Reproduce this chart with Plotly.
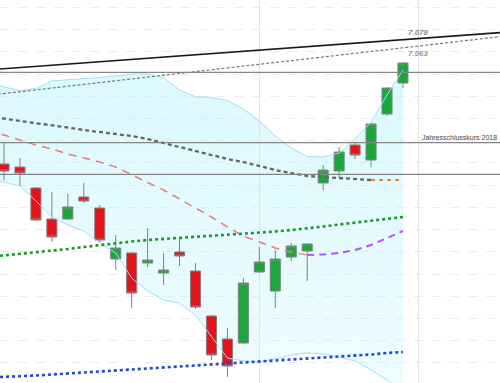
import plotly.graph_objects as go

# ---- candle data (index, OHLC) ----
idx = list(range(26))
opens = [6797.5, 6790.75, 6743.5, 6673.75, 6673.75, 6723.25, 6698.5, 6583.75, 6597.25, 6574.75,
         6552.25, 6599.5, 6556.75, 6455.5, 6403.75, 6394.75, 6554.5, 6511.75, 6588.25, 6601.75,
         6754.75, 6781.75, 6840.25, 6806.5, 6910.0, 6979.75]
highs = [6844.75, 6811.0, 6745.75, 6734.5, 6730.0, 6754.75, 6705.25, 6637.75, 6599.5, 6653.5,
         6597.25, 6633.25, 6574.75, 6457.75, 6428.5, 6541.0, 6610.75, 6604.0, 6619.75, 6619.75,
         6795.25, 6835.75, 6847.0, 6889.75, 6970.75, 7027.0]
lows = [6761.5, 6748.0, 6669.25, 6622.0, 6671.5, 6709.75, 6622.0, 6559.0, 6473.5, 6565.75,
        6525.25, 6568.0, 6471.25, 6356.5, 6318.25, 6392.5, 6552.25, 6473.5, 6579.25, 6534.25,
        6739.0, 6766.0, 6808.75, 6790.75, 6905.5, 6968.5]
closes = [6781.75, 6777.25, 6671.5, 6633.25, 6700.75, 6714.25, 6626.5, 6608.5, 6507.25, 6581.5,
          6559.0, 6590.5, 6475.75, 6367.75, 6343.0, 6529.75, 6577.0, 6583.75, 6613.0, 6617.5,
          6784.0, 6824.5, 6817.75, 6887.5, 6968.5, 7024.75]

# ---- indicators ----
ind_x = list(range(-1, 26))
bb_upper = [6979.0, 6970.75, 6962.9, 6967.4, 6984.25, 6987.0, 6988.75, 6992.1, 6995.5, 7000.0,
            7000.0, 6992.1, 6964.0, 6948.7, 6947.1, 6940.4, 6921.25, 6894.25, 6860.5, 6833.5,
            6814.4, 6813.25, 6822.25, 6853.75, 6892.0, 6952.75, 7009.0]
bb_lower = [6765.0, 6757.0, 6748.0, 6714.25, 6678.25, 6660.25, 6646.75, 6619.75, 6597.25, 6541.0,
            6511.75, 6491.5, 6484.75, 6457.75, 6408.25, 6361.0, 6354.25, 6352.0, 6358.75, 6367.75,
            6372.25, 6370.0, 6363.25, 6354.25, 6334.0, 6311.5, 6284.5]
sma_gray_x = list(range(-1, 24))
sma_gray = [6903.25, 6899.9, 6894.25, 6889.75, 6885.25, 6879.6, 6874.0, 6869.5, 6865.0, 6860.5,
            6853.75, 6844.75, 6835.75, 6826.75, 6817.75, 6808.75, 6802.0, 6793.0, 6784.0, 6777.25,
            6770.5, 6768.25, 6766.0, 6762.6, 6761.5]
sma_orange_x = [23, 24, 25]
sma_orange = [6761.5, 6761.5, 6761.5]
sma_red_x = list(range(-1, 20))
sma_red = [6871.75, 6862.75, 6851.5, 6840.25, 6831.25, 6820.0, 6811.0, 6802.0, 6790.75, 6772.75,
           6755.9, 6739.0, 6718.75, 6698.5, 6678.25, 6655.75, 6635.5, 6622.0, 6608.5, 6599.5, 6592.75]
sma_purple_x = list(range(19, 26))
sma_purple = [6592.75, 6593.9, 6597.25, 6604.0, 6615.25, 6631.0, 6646.75]
green_line = [6588.25, 6591.6, 6595.0, 6598.4, 6601.75, 6606.25, 6610.75, 6615.25, 6618.6, 6623.1,
              6626.5, 6628.75, 6632.1, 6634.4, 6636.6, 6638.9, 6641.1, 6642.25, 6645.6, 6649.0,
              6652.4, 6656.9, 6661.4, 6665.9, 6670.4, 6674.9, 6678.25]
blue_line = [6317.1, 6318.25, 6319.4, 6321.6, 6323.9, 6326.1, 6328.4, 6330.6, 6334.0, 6336.25,
             6338.5, 6340.75, 6343.0, 6345.25, 6346.4, 6348.6, 6350.9, 6353.1, 6355.4, 6357.6,
             6359.9, 6362.1, 6364.4, 6366.6, 6368.9, 6372.25, 6374.5]
trend_x = [-1, 32]
trend_upper = [7009.3, 7095.4]
trend_lower = [6951.9, 7087.75]
levels = [7003.8, 6845.4, 6774.3]
label_x = 26
label_upper = ("7.078", 7079.0)
label_lower = ("7.063", 7063.0)
year_close_label = "Jahresschlusskurs 2018"
grid_prices = [6350 + 50 * k for k in range(17)]
vgrid_idx = [16, 26]
y_range = [6304.75, 7166.5]

fig = go.Figure()

# --- layer 1 (y): Bollinger band fill, below candles ---
fig.add_trace(go.Scatter(x=ind_x, y=bb_upper, mode="lines", yaxis="y",
                         line=dict(color="rgba(0,0,0,0)", width=0), hoverinfo="skip"))
fig.add_trace(go.Scatter(x=ind_x, y=bb_lower, mode="lines", fill="tonexty", yaxis="y",
                         fillgradient=dict(type="vertical",
                                           colorscale=[[0, "rgba(175,242,255,0.2)"],
                                                       [1, "rgba(175,242,255,0.45)"]]),
                         line=dict(color="rgba(0,0,0,0)", width=0), hoverinfo="skip"))

# --- layer 2 (y2): candles ---
fig.add_trace(go.Candlestick(
    x=idx, open=opens, high=highs, low=lows, close=closes, yaxis="y2",
    increasing=dict(fillcolor="#1aa83c", line=dict(color="#7a857d", width=1)),
    decreasing=dict(fillcolor="#e3141b", line=dict(color="#8c7c7c", width=1)),
    whiskerwidth=0, hoverinfo="skip"))

# --- layer 3 (y3): lines above candles ---
fig.add_trace(go.Scatter(x=ind_x, y=bb_upper, mode="lines", yaxis="y3",
                         line=dict(color="#a6ddf5", width=1), hoverinfo="skip"))
fig.add_trace(go.Scatter(x=ind_x, y=bb_lower, mode="lines", yaxis="y3",
                         line=dict(color="#a6ddf5", width=1), hoverinfo="skip"))
fig.add_trace(go.Scatter(x=trend_x, y=trend_upper, mode="lines", yaxis="y3",
                         line=dict(color="#1a1a1a", width=1.6)))
fig.add_trace(go.Scatter(x=trend_x, y=trend_lower, mode="lines", yaxis="y3",
                         line=dict(color="#777777", width=1.2, dash="3px,2px")))
fig.add_trace(go.Scatter(x=sma_gray_x, y=sma_gray, mode="lines", yaxis="y3",
                         line=dict(color="#666666", width=2.3, dash="4px,3px")))
fig.add_trace(go.Scatter(x=sma_orange_x, y=sma_orange, mode="lines", yaxis="y3",
                         line=dict(color="#ff8428", width=2.2, dash="4px,4px")))
fig.add_trace(go.Scatter(x=sma_red_x, y=sma_red, mode="lines", yaxis="y3",
                         line=dict(color="#ee7b78", width=1.5, dash="8px,6px")))
fig.add_trace(go.Scatter(x=sma_purple_x, y=sma_purple, mode="lines", yaxis="y3",
                         line=dict(color="#b452ff", width=2, dash="7px,5px")))
fig.add_trace(go.Scatter(x=ind_x, y=green_line, mode="lines", yaxis="y3",
                         line=dict(color="#1a9a22", width=2.6, dash="3px,3px")))
fig.add_trace(go.Scatter(x=ind_x, y=blue_line, mode="lines", yaxis="y3",
                         line=dict(color="#1f49d6", width=2.6, dash="3px,3px")))

# horizontal level lines
for lv in levels:
    fig.add_hline(y=lv, line=dict(color="#858585", width=1.3), layer="above")

fig.add_annotation(x=label_x, y=label_upper[1], text="<b><i>" + label_upper[0] + "</i></b>",
                   showarrow=False, yanchor="bottom", xanchor="center", yshift=0,
                   font=dict(family="Arial", size=8, color="#8c8c8c"))
fig.add_annotation(x=label_x, y=label_lower[1], text="<b><i>" + label_lower[0] + "</i></b>",
                   showarrow=False, yanchor="top", xanchor="center", yshift=-1,
                   font=dict(family="Arial", size=8, color="#9a9a9a"))
fig.add_annotation(x=0.998, xref="paper", y=levels[1], text=year_close_label,
                   showarrow=False, yanchor="bottom", xanchor="right", yshift=0,
                   font=dict(family="Arial", size=7, color="#444444"))

hidden = dict(range=y_range, showticklabels=False, ticks="", zeroline=False,
              showline=False, showgrid=False, overlaying="y")
fig.update_layout(
    width=500, height=383, margin=dict(l=0, r=0, t=0, b=0),
    paper_bgcolor="white", plot_bgcolor="white", showlegend=False,
    boxgap=0.37, boxgroupgap=0,
    xaxis=dict(range=[-0.25, 31.08], showticklabels=False, ticks="", zeroline=False,
               showline=False, tickvals=vgrid_idx, showgrid=True, gridcolor="#e4e4e4",
               gridwidth=1, rangeslider=dict(visible=False)),
    yaxis=dict(range=y_range, showticklabels=False, ticks="", zeroline=False,
               showline=False, tickvals=grid_prices, showgrid=True, gridcolor="#ececec",
               griddash="dash", gridwidth=1),
    yaxis2=hidden,
    yaxis3=hidden,
)

fig.write_html("out.html")
